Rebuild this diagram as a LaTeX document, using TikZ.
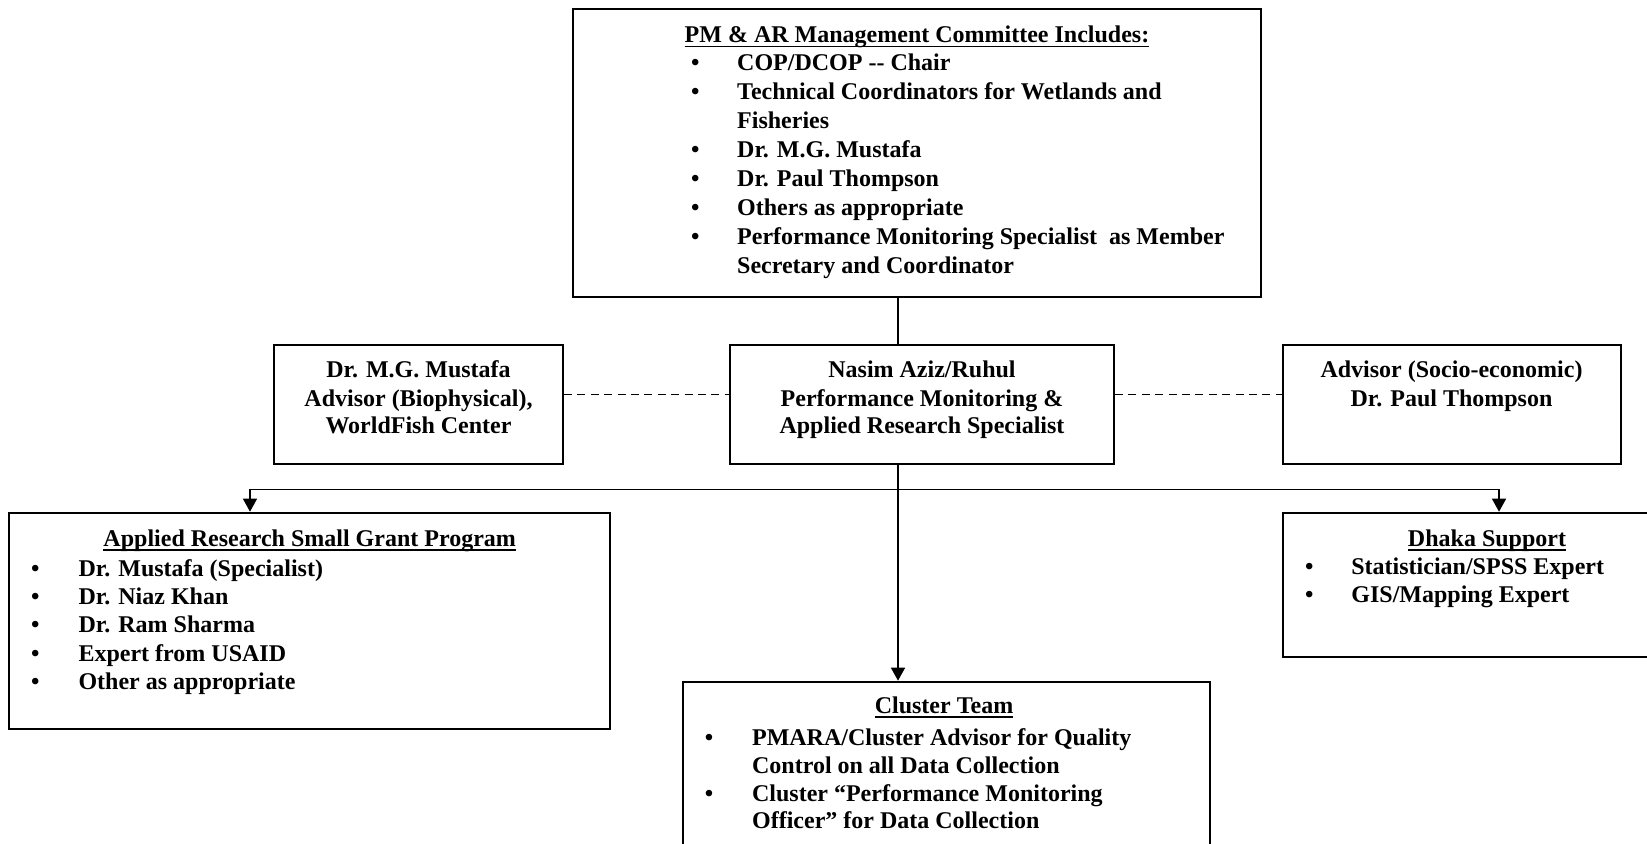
\documentclass[tikz,border=0pt]{standalone}
\usepackage{fontspec}
\setmainfont{Liberation Serif}
\usepackage{array}
\usetikzlibrary{arrows.meta,fit}
\newcommand{\ulin}[1]{\sbox0{#1}\rlap{\rule[-2.3pt]{\wd0}{0.7pt}}\usebox0}
\newcommand{\blist}[2]{\begin{tabular}[t]{@{}p{#1}@{}l@{}}#2\end{tabular}}
\newcommand{\clines}[1]{\begin{tabular}[t]{@{}c@{}}#1\end{tabular}}
\begin{document}
\begin{tikzpicture}[x=0.5pt,y=-0.5pt,
  box/.style={draw, line width=1pt, inner sep=0pt},
  txt/.style={inner sep=0pt, font=\fontsize{12}{14}\selectfont\bfseries},
  ctxt/.style={txt, anchor=base},
  conn/.style={line width=0.7pt},
  arr/.style={conn, -{Triangle[width=7pt,length=6.5pt]}},
  dashline/.style={line width=0.8pt, dash pattern=on 4pt off 2.7pt}]
\useasboundingbox (0,0) rectangle (1647,844);
\fill[white] (0,0) rectangle (1647,844);
\clip (0,0) rectangle (1647,844);

% top committee box
\node[box, fit={(573.3,9.3)(1260.7,297.3)}] (top) {};
\node[ctxt] (toptitle) at (917,42.5) {\ulin{PM \& AR Management Committee Includes:}};
\node[txt, anchor=base west, font=\fontsize{12}{14.45}\selectfont\bfseries] (toplist) at (690.8,71) {\blist{23pt}{%
\textbullet & COP/DCOP -{}- Chair\\
\textbullet & Technical Coordinators for Wetlands and\\
 & Fisheries\\
\textbullet & Dr. M.G. Mustafa\\
\textbullet & Dr. Paul Thompson\\
\textbullet & Others as appropriate\\
\textbullet & Performance Monitoring Specialist\ \ as Member\\
 & Secretary and Coordinator}};

% middle row
\node[box, fit={(274,345)(563,464.3)}] (must) {};
\node[ctxt] (musttext) at (418.5,378) {\clines{Dr. M.G. Mustafa\\Advisor (Biophysical),\\WorldFish Center}};
\node[box, fit={(730,345)(1114,464.3)}] (nasim) {};
\node[ctxt] (nasimtext) at (922,378) {\clines{Nasim Aziz/Ruhul\\Performance Monitoring \&\\Applied Research Specialist}};
\node[box, fit={(1282.5,345)(1620.6,464.3)}] (thom) {};
\node[ctxt] (thomtext) at (1451.5,378) {\clines{Advisor (Socio-economic)\\Dr. Paul Thompson}};

% applied research box
\node[box, fit={(9.3,512.7)(610,729)}] (arsg) {};
\node[ctxt] (arsgtitle) at (309.7,546) {\ulin{Applied Research Small Grant Program}};
\node[txt, anchor=base west, font=\fontsize{12}{14.2}\selectfont\bfseries] (arsglist) at (30.8,576) {\blist{23.7pt}{%
\textbullet & Dr. Mustafa (Specialist)\\
\textbullet & Dr. Niaz Khan\\
\textbullet & Dr. Ram Sharma\\
\textbullet & Expert from USAID\\
\textbullet & Other as appropriate}};

% dhaka box
\node[box, fit={(1282.7,512.7)(1700,656.7)}] (dhaka) {};
\node[ctxt] (dhakatitle) at (1487,546) {\ulin{Dhaka Support}};
\node[txt, anchor=base west, font=\fontsize{12}{13.8}\selectfont\bfseries] (dhakalist) at (1304.8,574.5) {\blist{23.1pt}{%
\textbullet & Statistician/SPSS Expert\\
\textbullet & GIS/Mapping Expert}};

% cluster box
\node[box, fit={(682.7,681.7)(1210,900)}] (cluster) {};
\node[ctxt] (clustertitle) at (944,713) {\ulin{Cluster Team}};
\node[txt, anchor=base west, font=\fontsize{12}{13.9}\selectfont\bfseries] (clusterlist) at (704.5,745.5) {\blist{23.6pt}{%
\textbullet & PMARA/Cluster Advisor for Quality\\
 & Control on all Data Collection\\
\textbullet & Cluster “Performance Monitoring\\
 & Officer” for Data Collection}};

% connectors
\coordinate (spine) at (898,489.3);
\coordinate (la) at (250,489.3);
\coordinate (ra) at (1499,489.3);
\coordinate (dl) at (0,394.5);
\draw[conn] (top.south -| spine) -- (nasim.north -| spine);
\draw[arr] (nasim.south -| spine) -- (cluster.north -| spine);
\draw[arr] (spine) -- (la) -- (arsg.north -| la);
\draw[arr] (spine) -- (ra) -- (dhaka.north -| ra);
\draw[dashline] (must.east |- dl) -- (nasim.west |- dl);
\draw[dashline] (nasim.east |- dl) -- (thom.west |- dl);
\end{tikzpicture}
\end{document}
